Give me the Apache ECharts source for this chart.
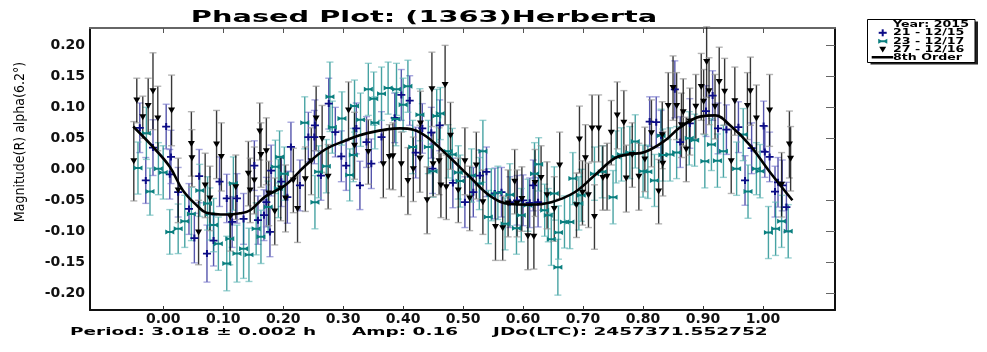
<!DOCTYPE html>
<html>
<head>
<meta charset="utf-8">
<title>Phased Plot: (1363)Herberta</title>
<script src="https://cdn.jsdelivr.net/npm/echarts@6/dist/echarts.min.js"></script>
<style>
html,body{margin:0;padding:0;background:#fff;}
#container{width:987px;height:352px;}
</style>
</head>
<body>
<div id="container"></div>
<script>
// tick positions of the phase / magnitude axes
var xTicks = [0.00, 0.10, 0.20, 0.30, 0.40, 0.50, 0.60, 0.70, 0.80, 0.90, 1.00];
var yTicks = [-0.20, -0.15, -0.10, -0.05, 0.00, 0.05, 0.10, 0.15, 0.20];

// legend entries
var legendTitle = 'Year: 2015';
var seriesNames = ['21 - 12/15', '23 - 12/17', '27 - 12/16', '8th Order'];

// [phase, magnitude, error] for each night
var night21 = [
  [-0.039,0.067,0.040],[-0.029,-0.018,0.037],[-0.017,0.035,0.045],[0.005,0.069,0.036],[0.011,-0.008,0.040],
  [0.013,0.020,0.043],[0.025,-0.037,0.040],[0.043,-0.064,0.041],[0.052,-0.111,0.040],[0.060,-0.011,0.043],
  [0.073,-0.136,0.046],[0.084,-0.115,0.041],[0.094,-0.020,0.040],[0.106,-0.047,0.039],[0.115,-0.085,0.041],
  [0.123,-0.047,0.040],[0.134,-0.080,0.041],[0.152,0.006,0.040],[0.158,-0.082,0.039],[0.168,-0.074,0.041],
  [0.172,-0.053,0.040],[0.178,-0.101,0.040],[0.180,-0.002,0.041],[0.197,-0.020,0.040],[0.207,-0.045,0.042],
  [0.213,0.036,0.040],[0.228,-0.026,0.041],[0.242,0.052,0.040],[0.252,0.052,0.043],[0.253,0.071,0.041],
  [0.263,-0.010,0.040],[0.276,0.106,0.041],[0.287,0.060,0.040],[0.297,0.021,0.041],[0.305,0.006,0.040],
  [0.322,0.066,0.041],[0.328,-0.026,0.039],[0.339,0.044,0.041],[0.347,0.009,0.040],[0.364,0.052,0.041],
  [0.386,0.083,0.040],[0.397,0.120,0.041],[0.411,0.111,0.040],[0.421,0.027,0.041],[0.432,0.066,0.040],
  [0.447,0.059,0.041],[0.449,0.001,0.040],[0.461,0.071,0.041],[0.483,-0.022,0.040],[0.503,-0.053,0.041],
  [0.517,-0.037,0.040],[0.528,-0.010,0.041],[0.539,-0.004,0.040],[0.553,-0.039,0.041],[0.564,-0.037,0.040],
  [0.578,-0.053,0.041],[0.590,-0.050,0.040],[0.600,-0.050,0.041],[0.611,-0.054,0.040],[0.617,-0.026,0.041],
  [0.625,-0.053,0.040],[0.811,0.077,0.040],[0.822,0.076,0.041],[0.830,0.055,0.040],[0.853,0.129,0.046],
  [0.862,0.044,0.041],[0.878,0.074,0.040],[0.905,0.094,0.041],[0.916,0.119,0.040],[0.925,0.066,0.041],
  [0.939,0.064,0.040],[0.959,0.068,0.041],[0.970,-0.018,0.040],[0.981,0.034,0.041],[1.001,0.070,0.040],
  [1.003,0.028,0.041],[1.011,0.020,0.040],[1.020,-0.036,0.041],[1.025,-0.021,0.040],[1.032,-0.026,0.041],
  [1.039,-0.061,0.040]
];

var night23 = [
  [-0.042,0.002,0.042],[-0.028,0.058,0.042],[-0.022,-0.036,0.038],[-0.008,0.001,0.042],[0.000,-0.005,0.043],
  [0.011,-0.101,0.036],[0.025,-0.096,0.040],[0.036,-0.084,0.042],[0.047,-0.072,0.043],[0.061,-0.034,0.042],
  [0.074,-0.055,0.043],[0.078,-0.072,0.042],[0.084,-0.090,0.043],[0.092,-0.120,0.043],[0.106,-0.152,0.044],
  [0.111,-0.112,0.042],[0.117,-0.023,0.043],[0.123,-0.136,0.046],[0.134,-0.128,0.048],[0.143,-0.138,0.043],
  [0.155,-0.096,0.042],[0.163,-0.109,0.043],[0.175,-0.061,0.042],[0.187,0.004,0.043],[0.192,-0.031,0.047],
  [0.194,0.020,0.042],[0.202,-0.007,0.043],[0.236,0.075,0.042],[0.253,-0.053,0.043],[0.259,-0.004,0.042],
  [0.272,0.005,0.043],[0.278,0.117,0.056],[0.282,0.068,0.042],[0.298,0.082,0.043],[0.311,-0.009,0.042],
  [0.317,0.023,0.043],[0.319,0.102,0.042],[0.329,0.080,0.043],[0.342,0.129,0.042],[0.351,0.114,0.043],
  [0.353,0.075,0.042],[0.364,0.122,0.043],[0.375,0.131,0.042],[0.388,0.081,0.043],[0.389,0.129,0.042],
  [0.400,0.104,0.043],[0.408,0.134,0.042],[0.416,0.036,0.043],[0.428,0.088,0.042],[0.442,0.036,0.043],
  [0.450,-0.003,0.042],[0.456,0.086,0.043],[0.462,0.090,0.042],[0.475,0.029,0.043],[0.482,0.024,0.042],
  [0.492,-0.005,0.043],[0.495,-0.019,0.042],[0.514,-0.010,0.043],[0.527,-0.023,0.042],[0.533,0.029,0.050],
  [0.542,-0.077,0.043],[0.547,-0.041,0.042],[0.558,-0.038,0.043],[0.570,-0.088,0.042],[0.578,-0.041,0.050],
  [0.589,-0.095,0.042],[0.597,-0.074,0.043],[0.608,-0.058,0.042],[0.619,-0.007,0.050],[0.626,0.008,0.043],
  [0.636,-0.066,0.042],[0.642,-0.074,0.043],[0.647,-0.113,0.042],[0.652,-0.039,0.043],[0.658,-0.158,0.045],
  [0.659,-0.102,0.043],[0.669,-0.085,0.042],[0.678,-0.085,0.043],[0.683,-0.015,0.042],[0.693,-0.055,0.043],
  [0.697,-0.042,0.042],[0.719,-0.007,0.043],[0.732,-0.004,0.042],[0.750,-0.045,0.043],[0.755,0.020,0.042],
  [0.764,0.024,0.043],[0.778,0.027,0.042],[0.787,0.045,0.043],[0.800,-0.003,0.042],[0.808,-0.004,0.043],
  [0.819,-0.018,0.042],[0.830,0.054,0.043],[0.833,0.023,0.042],[0.845,0.024,0.043],[0.856,0.027,0.042],
  [0.877,0.050,0.043],[0.886,0.047,0.042],[0.903,0.013,0.043],[0.914,0.040,0.042],[0.924,0.014,0.043],
  [0.934,0.029,0.042],[0.956,0.001,0.043],[0.967,0.056,0.042],[0.975,-0.036,0.043],[0.989,0.001,0.042],
  [0.995,-0.003,0.043],[1.009,-0.102,0.042],[1.021,-0.096,0.043],[1.031,-0.084,0.042],[1.042,-0.100,0.043]
];

var night27 = [
  [-0.049,0.013,0.064],[-0.044,0.111,0.036],[-0.034,0.084,0.034],[-0.025,0.102,0.045],[-0.017,0.126,0.062],
  [-0.009,0.082,0.052],[0.014,0.095,0.057],[0.025,-0.034,0.052],[0.047,0.041,0.052],[0.048,0.018,0.046],
  [0.059,-0.102,0.052],[0.070,-0.026,0.052],[0.078,-0.047,0.052],[0.089,0.040,0.055],[0.097,0.020,0.055],
  [0.112,-0.077,0.055],[0.121,-0.029,0.052],[0.142,-0.007,0.052],[0.145,-0.034,0.052],[0.152,-0.018,0.054],
  [0.161,0.061,0.046],[0.163,0.023,0.052],[0.172,0.029,0.054],[0.176,-0.039,0.052],[0.186,-0.068,0.054],
  [0.196,-0.031,0.052],[0.204,-0.047,0.054],[0.217,-0.018,0.052],[0.224,-0.064,0.054],[0.237,-0.016,0.052],
  [0.247,0.013,0.054],[0.255,0.082,0.052],[0.265,0.049,0.054],[0.275,-0.012,0.052],[0.309,0.095,0.046],
  [0.319,0.038,0.054],[0.342,0.028,0.052],[0.367,0.008,0.054],[0.377,0.020,0.052],[0.383,0.021,0.054],
  [0.397,0.008,0.052],[0.408,-0.019,0.054],[0.417,0.000,0.052],[0.428,0.017,0.054],[0.429,0.074,0.052],
  [0.440,-0.050,0.054],[0.448,0.129,0.060],[0.450,0.008,0.052],[0.460,0.013,0.054],[0.463,-0.026,0.052],
  [0.470,0.136,0.064],[0.472,-0.029,0.052],[0.479,0.054,0.054],[0.492,-0.034,0.052],[0.503,0.013,0.054],
  [0.511,-0.047,0.052],[0.522,0.006,0.054],[0.533,-0.053,0.052],[0.554,-0.093,0.054],[0.566,-0.095,0.052],
  [0.575,-0.055,0.054],[0.586,-0.020,0.052],[0.590,-0.055,0.054],[0.598,-0.048,0.052],[0.608,-0.108,0.054],
  [0.618,-0.109,0.052],[0.620,-0.022,0.054],[0.630,-0.014,0.052],[0.640,-0.042,0.054],[0.652,-0.064,0.052],
  [0.661,0.006,0.054],[0.689,-0.058,0.052],[0.694,0.048,0.054],[0.699,-0.038,0.052],[0.704,0.018,0.054],
  [0.709,-0.042,0.052],[0.715,0.066,0.054],[0.719,-0.077,0.052],[0.726,0.066,0.054],[0.733,-0.014,0.052],
  [0.740,-0.012,0.054],[0.747,0.059,0.052],[0.757,0.087,0.054],[0.768,0.075,0.052],[0.772,-0.015,0.054],
  [0.782,0.023,0.052],[0.793,-0.012,0.054],[0.803,0.016,0.052],[0.814,0.058,0.054],[0.826,-0.036,0.052],
  [0.832,0.055,0.054],[0.833,0.009,0.052],[0.842,0.102,0.054],[0.850,0.131,0.052],[0.856,0.102,0.054],
  [0.864,0.071,0.052],[0.867,0.092,0.054],[0.872,0.032,0.052],[0.878,0.077,0.054],[0.888,0.101,0.052],
  [0.897,0.133,0.054],[0.901,0.109,0.052],[0.906,0.173,0.057],[0.910,0.126,0.054],[0.920,0.101,0.052],
  [0.927,0.141,0.056],[0.936,0.125,0.054],[0.947,0.013,0.052],[0.953,0.110,0.055],[0.974,0.102,0.054],
  [0.979,0.126,0.055],[0.989,0.082,0.054],[1.011,0.095,0.058],[1.031,-0.025,0.052],[1.044,0.040,0.054],
  [1.046,0.017,0.052]
];

// 8th order fourier fit
var fitPhase = [-0.050,-0.017,0.011,0.033,0.058,0.072,0.106,0.128,0.145,0.170,0.203,0.236,0.270,0.303,0.339,
  0.395,0.417,0.440,0.478,0.511,0.545,0.578,0.610,0.647,0.686,0.719,0.753,0.775,0.803,0.836,0.861,0.895,
  0.920,0.945,0.978,1.011,1.049];
var fitMag = [0.069,0.036,0.004,-0.034,-0.060,-0.070,-0.073,-0.071,-0.066,-0.044,-0.026,0.005,0.032,0.046,0.058,
  0.066,0.064,0.052,0.019,-0.012,-0.043,-0.056,-0.057,-0.053,-0.037,-0.010,0.018,0.024,0.028,0.046,0.067,0.085,
  0.087,0.071,0.039,-0.004,-0.050];

var plusIcon = 'path://M3,0H5V3H8V5H5V8H3V5H0V3H3Z';
var bowIcon = 'path://M0,0L3,1.5H7L10,0V5L7,3.5H3L0,5Z';
var triIcon = 'path://M0,0H8L4,7Z';

var navyColor = '#0c0c86', tealColor = '#0a7f7f';

function errorBars(lineColor, capColor){
	return function(params, api){
		var x = api.value(0), y = api.value(1), e = api.value(2);
		var hi = api.coord([x, y + e]);
		var lo = api.coord([x, y - e]);
		var w = 3.5;
		return {
			type: 'group',
			children: [
				{type:'line', shape:{x1:hi[0], y1:hi[1], x2:lo[0], y2:lo[1]}, style:{stroke:lineColor, lineWidth:1.4}},
				{type:'line', shape:{x1:hi[0]-w, y1:hi[1], x2:hi[0]+w, y2:hi[1]}, style:{stroke:capColor, lineWidth:1.4}},
				{type:'line', shape:{x1:lo[0]-w, y1:lo[1], x2:lo[0]+w, y2:lo[1]}, style:{stroke:capColor, lineWidth:1.4}}
			]
		};
	};
}

function twoDecimals(v){ return v.toFixed(2); }

// stretched bold text, the plot program draws everything wide
function wideText(str, x, y, size, scale, align){
	return {type:'text', x:x, y:y, scaleX:scale, z:100,
		style:{text:str, font:'bold ' + size + 'px "DejaVu Sans"', fill:'#000',
			textAlign:align, textVerticalAlign:'middle', align:align, verticalAlign:'middle'}};
}

var labelFont = {fontFamily:'DejaVu Sans', fontWeight:'bold', fontSize:14, color:'#111'};
var xRange = {min:-0.122, max:1.12};
var yRange = {min:-0.227, max:0.228};

// legend box, drawn by hand so its text can be stretched like the rest
var legendBox = [
	{type:'rect', z:98, shape:{x:870.5, y:21.5, width:107.5, height:43}, style:{fill:'#222'}},
	{type:'rect', z:99, shape:{x:867.5, y:19.5, width:107.5, height:43}, style:{fill:'#fff', stroke:'#000', lineWidth:1}},
	wideText(legendTitle, 893, 24.3, 9.5, 1.33, 'left'),
	wideText(seriesNames[0], 893, 32.8, 9.5, 1.33, 'left'),
	wideText(seriesNames[1], 893, 41.1, 9.5, 1.33, 'left'),
	wideText(seriesNames[2], 893, 49.4, 9.5, 1.33, 'left'),
	wideText(seriesNames[3], 893, 57.4, 9.5, 1.33, 'left'),
	{type:'rect', z:100, shape:{x:878.7, y:31.8, width:8, height:2}, style:{fill:navyColor}},
	{type:'rect', z:100, shape:{x:881.7, y:29.3, width:2, height:7}, style:{fill:navyColor}},
	{type:'polygon', z:100, shape:{points:[[878.2,38.8],[881,40.3],[884.5,40.3],[887.3,38.8],[887.3,43.8],[884.5,42.3],[881,42.3],[878.2,43.8]]}, style:{fill:tealColor}},
	{type:'polygon', z:100, shape:{points:[[879.2,46.8],[886.2,46.8],[882.7,52.4]]}, style:{fill:'#000'}},
	{type:'rect', z:100, shape:{x:871.7, y:56, width:21.5, height:2.5}, style:{fill:'#000'}}
];

var myChart = echarts.init(document.getElementById('container'));
var option = {
	animation: false,
	backgroundColor: '#fff',
	grid: {left:90, right:152, top:28, bottom:42},
	xAxis: [
		{
			type:'value', position:'bottom', min:xRange.min, max:xRange.max,
			axisLine:{onZero:false, lineStyle:{color:'#111', width:2}},
			axisTick:{inside:true, length:4, customValues:xTicks, lineStyle:{color:'#333'}},
			axisLabel:Object.assign({customValues:xTicks, formatter:twoDecimals, margin:2}, labelFont),
			splitLine:{show:false}
		},
		{
			type:'value', position:'top', min:xRange.min, max:xRange.max,
			axisLine:{onZero:false, lineStyle:{color:'#666', width:2}},
			axisTick:{inside:true, length:5, customValues:xTicks, lineStyle:{color:'#555'}},
			axisLabel:{show:false},
			splitLine:{show:false}
		}
	],
	yAxis: [
		{
			type:'value', position:'left', min:yRange.min, max:yRange.max,
			axisLine:{show:true, onZero:false, lineStyle:{color:'#111', width:2}},
			axisTick:{show:false},
			axisLabel:Object.assign({customValues:yTicks, formatter:twoDecimals, margin:5}, labelFont),
			splitLine:{show:false}
		},
		{
			type:'value', position:'right', min:yRange.min, max:yRange.max,
			axisLine:{show:true, onZero:false, lineStyle:{color:'#111', width:2}},
			axisTick:{show:true, inside:true, length:9, customValues:yTicks, lineStyle:{color:'#666'}},
			axisLabel:{show:false},
			splitLine:{show:false}
		}
	],
	series: [
		{type:'custom', name:'err21', silent:true, renderItem:errorBars('rgba(20,20,140,0.72)', 'rgba(110,110,200,0.6)'), encode:{x:0, y:1}, data:night21},
		{type:'custom', name:'err23', silent:true, renderItem:errorBars('rgba(0,128,128,0.72)', 'rgba(100,185,185,0.65)'), encode:{x:0, y:1}, data:night23},
		{type:'custom', name:'err27', silent:true, renderItem:errorBars('rgba(0,0,0,0.78)', 'rgba(150,150,150,0.7)'), encode:{x:0, y:1}, data:night27},
		{type:'scatter', name:seriesNames[0], symbol:plusIcon, symbolSize:[8,7], itemStyle:{color:navyColor, opacity:1}, encode:{x:0, y:1}, data:night21},
		{type:'scatter', name:seriesNames[1], symbol:bowIcon, symbolSize:[9,5], itemStyle:{color:tealColor, opacity:1}, encode:{x:0, y:1}, data:night23},
		{type:'scatter', name:seriesNames[2], symbol:triIcon, symbolSize:[7,6], itemStyle:{color:'#000', opacity:1}, encode:{x:0, y:1}, data:night27},
		{
			type:'line', name:seriesNames[3], smooth:0.4, symbol:'none',
			lineStyle:{color:'#000', width:2.6}, itemStyle:{color:'#000'},
			data: fitPhase.map(function(p, i){ return [p, fitMag[i]]; })
		}
	],
	graphic: [
		wideText('Phased Plot: (1363)Herberta', 424, 18, 16, 1.8, 'center'),
		{type:'text', x:20, y:142, rotation:Math.PI/2, z:100,
		 style:{text:'Magnitude(R) alpha(6.2°)', font:'14px "Liberation Sans Narrow", "DejaVu Sans Condensed", sans-serif', fill:'#000', textAlign:'center', textVerticalAlign:'middle', align:'center', verticalAlign:'middle'}},
		wideText('Period: 3.018 ± 0.002 h', 70, 332, 11, 1.68, 'left'),
		wideText('Amp: 0.16', 352, 332, 11, 1.68, 'left'),
		wideText('JDo(LTC): 2457371.552752', 493, 332, 11, 1.68, 'left')
	].concat(legendBox)
};
myChart.setOption(option);
</script>
</body>
</html>
